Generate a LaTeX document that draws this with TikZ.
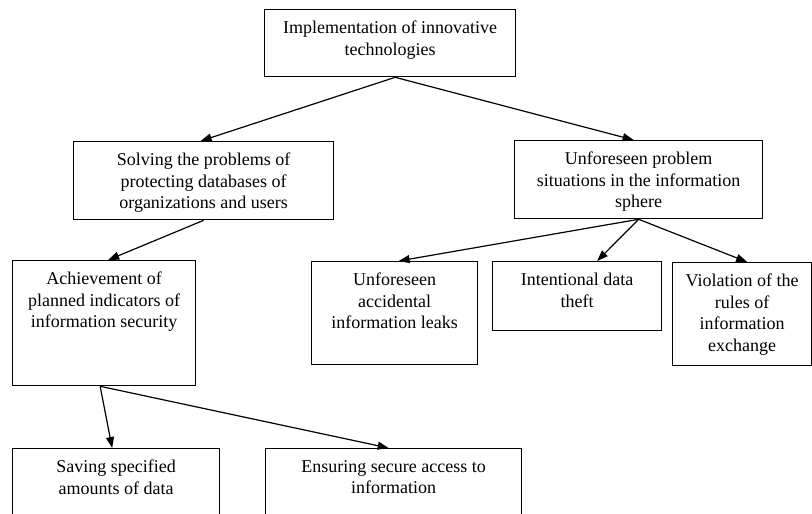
\documentclass[tikz,border=0pt]{standalone}
\usepackage{fontspec}
\setmainfont{Liberation Serif}
\usetikzlibrary{arrows.meta}
\tikzset{
  box/.style={draw, line width=1.3pt, anchor=north west, inner sep=0pt},
  lbl/.style={anchor=north, align=center, inner sep=0pt,
              font=\fontsize{18pt}{21.5pt}\selectfont},
  link/.style={line width=1.2pt, -{Triangle[length=11pt,width=8pt]}}
}
\begin{document}
\begin{tikzpicture}[x=1pt,y=-1pt]
\clip (0,0) rectangle (812,514);
\fill[white] (0,0) rectangle (812,514);

% boxes
\node[box, minimum width=251, minimum height=67] (top)   at (264,9)   {};
\node[box, minimum width=260, minimum height=78] (solve) at (73,141)  {};
\node[box, minimum width=248, minimum height=78] (unf)   at (514,140) {};
\node[box, minimum width=183, minimum height=125] (ach)  at (12,260)  {};
\node[box, minimum width=166, minimum height=103] (leak) at (311,261) {};
\node[box, minimum width=169, minimum height=69] (theft) at (492,261) {};
\node[box, minimum width=139, minimum height=103] (viol) at (672,262) {};
\node[box, minimum width=207, minimum height=90] (save)  at (12,448)  {};
\node[box, minimum width=256, minimum height=90] (secure) at (265,448) {};

% labels
\node[lbl] (tTop)   at ([yshift=-12]top.north)   {Implementation of innovative\\technologies};
\node[lbl] (tSolve) at ([yshift=-12]solve.north) {Solving the problems of\\protecting databases of\\organizations and users};
\node[lbl] (tUnf)   at ([yshift=-12]unf.north)   {Unforeseen problem\\situations in the information\\sphere};
\node[lbl] (tAch)   at ([yshift=-12]ach.north)   {Achievement of\\planned indicators of\\information security};
\node[lbl] (tLeak)  at ([yshift=-12]leak.north)  {Unforeseen\\accidental\\information leaks};
\node[lbl] (tTheft) at ([yshift=-12]theft.north) {Intentional data\\theft};
\node[lbl] (tViol)  at ([yshift=-12]viol.north)  {Violation of the\\rules of\\information\\exchange};
\node[lbl] (tSave)  at ([yshift=-12]save.north)  {Saving specified\\amounts of data};
\node[lbl] (tSec)   at ([yshift=-12]secure.north) {Ensuring secure access to\\information};

% connectors
\draw[link] ([xshift=5]top.south) -- ([xshift=-3]solve.north);
\draw[link] ([xshift=5]top.south) -- ([xshift=-5]unf.north);
\draw[link] (solve.south) -- ([xshift=4]ach.north);
\draw[link] ([xshift=-4]ach.south) -- ([xshift=-4]save.north);
\draw[link] ([xshift=-4]ach.south) -- ([xshift=-5]secure.north);
\draw[link] (unf.south) -- ([xshift=4]leak.north);
\draw[link] (unf.south) -- ([xshift=20]theft.north);
\draw[link] (unf.south) -- ([xshift=5]viol.north);
\end{tikzpicture}
\end{document}
